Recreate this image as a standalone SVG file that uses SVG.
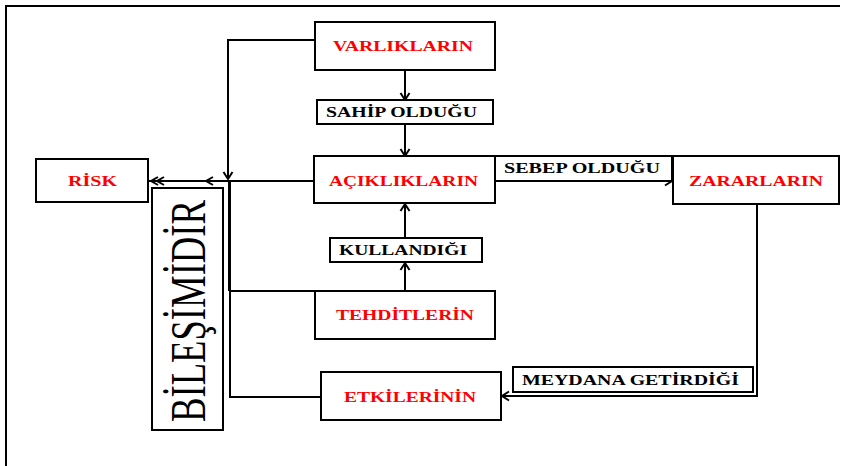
<svg xmlns="http://www.w3.org/2000/svg" width="849" height="466" viewBox="0 0 849 466">
  <defs>
    <marker id="chev" markerWidth="12" markerHeight="12" refX="9" refY="6" orient="auto" markerUnits="userSpaceOnUse">
      <path d="M2,1.5 L9,6 L2,10.5" fill="none" stroke="#000" stroke-width="2"/>
    </marker>
  </defs>
  <style>
    .box { fill: #fff; stroke: #000; stroke-width: 2; }
    .red { font-family: "Liberation Serif", "Times New Roman", serif; font-weight: bold; font-size: 15px; fill: #ff0000; }
    .blk { font-family: "Liberation Serif", "Times New Roman", serif; font-weight: bold; font-size: 14.5px; fill: #000; }
    .big { font-family: "Liberation Serif", "Times New Roman", serif; font-size: 50px; fill: #000; }
    .wire { fill: none; stroke: #000; stroke-width: 2; }
    .arr { marker-end: url(#chev); }
  </style>

  <rect width="849" height="466" fill="#fff"/>

  <!-- outer frame: top and left edges only -->
  <path d="M5,6 H840 M6,6 V466" fill="none" stroke="#000" stroke-width="2"/>

  <!-- connectors -->
  <g id="connectors">
    <path class="wire arr" d="M405,70 V100"/>
    <path class="wire arr" d="M405,124 V156"/>
    <path class="wire arr" d="M405,238 V204"/>
    <path class="wire arr" d="M405,291 V263"/>
    <path class="wire arr" d="M495,181 H672"/>
    <path class="wire arr" d="M757,204 V396 H502"/>
    <path class="wire arr" d="M315,40 H228 V179"/>
    <path class="wire" d="M314,181 H149"/>
    <path class="wire" d="M213,177 L206,181 L213,185"/>
    <path class="wire" d="M158,177 L151,181 L158,185 M164,177 L157,181 L164,185"/>
    <path d="M229.5,180 V291" fill="none" stroke="#000" stroke-width="3"/>
    <path class="wire" d="M229,291 H315 M230,291 V397 H321"/>
  </g>

  <g id="varliklarin">
    <rect class="box" x="315" y="22" width="180" height="48"/>
    <text class="red" x="333" y="51" textLength="140" lengthAdjust="spacingAndGlyphs">VARLIKLARIN</text>
  </g>

  <g id="sahip-oldugu">
    <rect class="box" x="317" y="100" width="176" height="24"/>
    <text class="blk" x="326" y="117" textLength="151" lengthAdjust="spacingAndGlyphs">SAHİP OLDUĞU</text>
  </g>

  <g id="aciklarin">
    <rect class="box" x="314" y="156" width="181" height="47"/>
    <text class="red" x="329" y="186" textLength="149" lengthAdjust="spacingAndGlyphs">AÇIKLIKLARIN</text>
  </g>

  <g id="sebep-oldugu">
    <rect class="box" x="495" y="156" width="177" height="25"/>
    <text class="blk" x="504" y="173" textLength="156" lengthAdjust="spacingAndGlyphs">SEBEP OLDUĞU</text>
  </g>

  <g id="zararlarin">
    <rect class="box" x="673" y="156" width="166" height="48"/>
    <text class="red" x="689" y="186" textLength="134" lengthAdjust="spacingAndGlyphs">ZARARLARIN</text>
  </g>

  <g id="kullandigi">
    <rect class="box" x="330" y="238" width="152" height="24"/>
    <text class="blk" x="339" y="255" textLength="128" lengthAdjust="spacingAndGlyphs">KULLANDIĞI</text>
  </g>

  <g id="tehditlerin">
    <rect class="box" x="315" y="291" width="180" height="48"/>
    <text class="red" x="336" y="320" textLength="138" lengthAdjust="spacingAndGlyphs">TEHDİTLERİN</text>
  </g>

  <g id="meydana-getirdigi">
    <rect class="box" x="513" y="367" width="240" height="25"/>
    <text class="blk" x="522" y="385" textLength="217" lengthAdjust="spacingAndGlyphs">MEYDANA GETİRDİĞİ</text>
  </g>

  <g id="etkilerinin">
    <rect class="box" x="321" y="372" width="180" height="48"/>
    <text class="red" x="344" y="402" textLength="132" lengthAdjust="spacingAndGlyphs">ETKİLERİNİN</text>
  </g>

  <g id="risk">
    <rect class="box" x="36" y="159" width="112" height="43"/>
    <text class="red" x="68" y="186" textLength="49" lengthAdjust="spacingAndGlyphs">RİSK</text>
  </g>

  <g id="bilesimidir">
    <rect class="box" x="152" y="188" width="71" height="242"/>
    <text class="big" transform="translate(205,422) rotate(-90)" x="0" y="0" textLength="222" lengthAdjust="spacingAndGlyphs">BİLEŞİMİDİR</text>
  </g>
</svg>
